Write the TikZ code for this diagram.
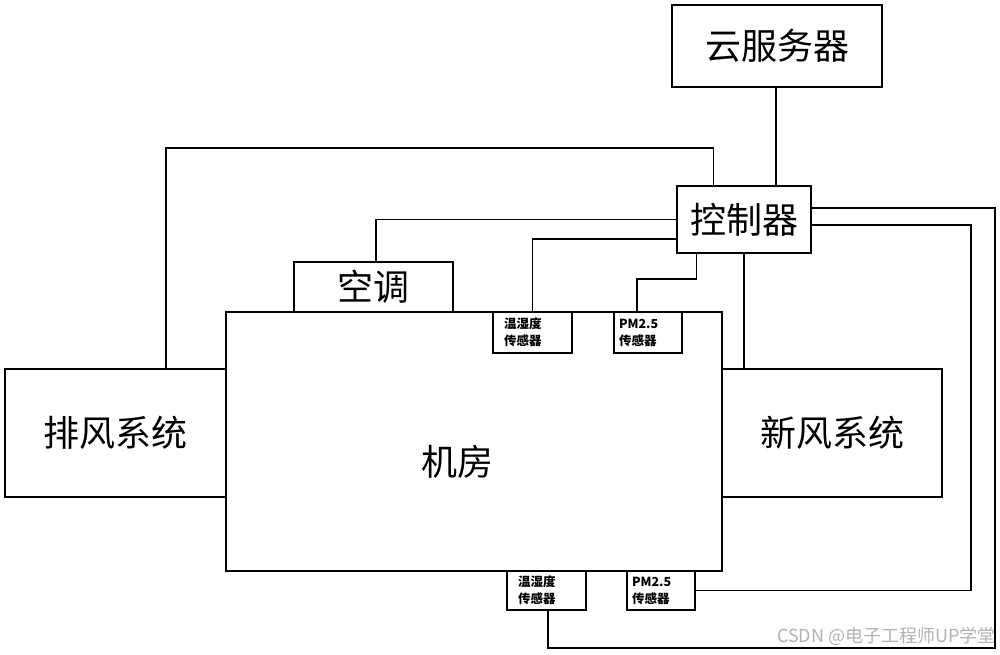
\documentclass[tikz,border=0pt]{standalone}
\usepackage{fontspec}
\newfontfamily\cjk{Noto Sans CJK SC}
\usetikzlibrary{calc}
\begin{document}
\begin{tikzpicture}[x=1pt,y=-1pt,
  box/.style={draw=black,line width=1.2pt,inner sep=0pt,fill=white,font=\cjk\fontsize{36}{42}\selectfont},
  sensor/.style={draw=black,line width=1.2pt,inner ysep=2pt,align=left,minimum height=#1,font=\cjk\bfseries\fontsize{12.5}{17}\selectfont},
  wire/.style={draw=black,line width=1.2pt}]
\useasboundingbox[fill=white] (0,0) rectangle (1000,654);
% boxes
\node[box,minimum width=210pt,minimum height=82pt] (cloud) at (777,46) {云服务器};
\node[box,minimum width=134pt,minimum height=67pt] (ctrl) at (744,219.5) {控制器};
\node[box,minimum width=159pt,minimum height=50pt] (ac) at (373.5,287) {空调};
\node[box,minimum width=221pt,minimum height=128pt] (exh) at (115.5,433) {排风系统};
\node[box,minimum width=220pt,minimum height=128pt] (fresh) at (832,433) {新风系统};
\node[box,minimum width=496pt,minimum height=259pt] (room) at (474,441.5) {};
\node[font=\cjk\fontsize{36}{42}\selectfont,inner sep=0pt] (roomtxt) at (457,462) {机房};
% sensors
\node[sensor=41pt,inner xsep=11pt,text width=57pt] (s1) at (532.5,332.5) {温湿度\\传感器};
\node[sensor=41pt,inner xsep=5pt,text width=58pt] (s2) at (648,332.5) {PM2.5\\传感器};
\node[sensor=39pt,inner xsep=11pt,text width=57pt] (s3) at (546.5,590.5) {温湿度\\传感器};
\node[sensor=39pt,inner xsep=5pt,text width=58pt] (s4) at (661,590.5) {PM2.5\\传感器};
% bend points
\coordinate (c1) at (166,148);
\coordinate (c2) at (637,279);
\coordinate (c3) at (995,648);
\coordinate (c4) at (971,590.5);
% connectors
\draw[wire] ([xshift=37pt]ctrl.north west) |- (c1) -- (c1 |- exh.north);
\draw[wire] ([xshift=-1pt]cloud.south) -- ([xshift=-1pt]cloud.south |- ctrl.north);
\draw[wire] (ctrl.west) -| ([xshift=2.5pt]ac.north);
\draw[wire] ([yshift=-19.5pt]ctrl.west) -| (s1.north);
\draw[wire] ([xshift=20pt]ctrl.south west) |- (c2) -- (c2 |- s2.north);
\draw[wire] (ctrl.south) -- (ctrl.south |- fresh.north);
\draw[wire] ([yshift=11.5pt]ctrl.east) -| (c3) -| ([xshift=1.5pt]s3.south);
\draw[wire] ([yshift=-5.5pt]ctrl.east) -| (c4) -- (s4.east);
% watermark
\node[anchor=east,inner sep=0pt,text=black!30,font=\cjk\fontsize{18}{20}\selectfont] (wm) at (996,636) {CSDN @电子工程师UP学堂};
\end{tikzpicture}
\end{document}
